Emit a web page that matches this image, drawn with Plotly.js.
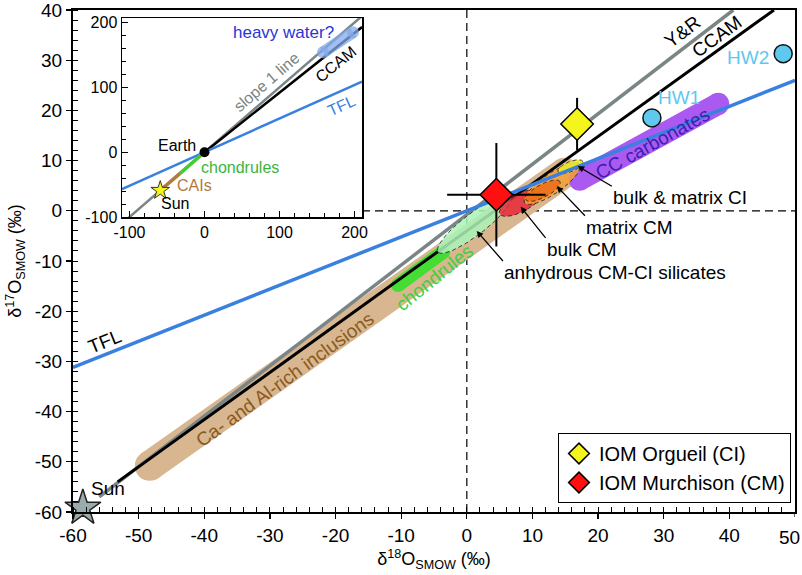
<!DOCTYPE html>
<html><head><meta charset="utf-8">
<script src="https://cdn.plot.ly/plotly-3.0.1.min.js"></script>
<style>body{margin:0;background:#fff}</style>
</head><body><div id="chart" style="width:802px;height:575px"></div>
<script>
// ---------- main panel data ----------
const tflX = [-60, 50], tflY = [-31.2, 26.0];          // terrestrial fractionation line
const ccamX = [-53.2, 46.8], ccamY = [-54.0, 40.0];    // CCAM line
const yrX = [-56.0, 40.6], yrY = [-57.0, 40.0];        // Young & Russell line
const sunX = [-58.5], sunY = [-59.2];
const hwX = [28.2, 48.2], hwY = [18.5, 31.3], hwLabels = ['HW1', 'HW2'];
const orgX = [16.8], orgY = [17.3], orgErrY = [5.2];
const murX = [4.5], murY = [3.2], murErrX = [7.5], murErrY = [10.3];
const caiX = [-48.3, 14.9], caiY = [-50.8, 7.6];        // Ca-Al-rich inclusions band
const chondX = [-10.5, -3.6], chondY = [-14.8, -8.2];   // chondrules band
const carbX = [17.2, 38.3], carbY = [6.2, 21.3];        // CC carbonates band
const regionNames = ['anhydrous CM-CI silicates', 'bulk CM', 'matrix CM', 'matrix CM core', 'bulk & matrix CI'];
const regionX1 = [-4.4, 5.0, 8.8, 9.0, 13.9];
const regionY1 = [-8.2, -0.6, 1.6, 2.2, 7.8];
const regionX2 = [6.6, 11.4, 17.2, 14.2, 17.7];
const regionY2 = [2.8, 3.8, 9.2, 5.8, 9.8];
// arrows: head points at the region, tail at the label
const ptrLabels = ['bulk &amp; matrix CI', 'matrix CM', 'bulk CM', 'anhydrous CM-CI silicates'];
const ptrHeadX = [16.9, 13.7, 8.2, 1.5], ptrHeadY = [8.9, 4.9, 0.8, -4.0];
const ptrTailX = [22.1, 18.0, 12.0, 5.5], ptrTailY = [4.9, -1.0, -5.4, -10.0];
// tick labels (the last x label, at the right edge, is drawn as a right-aligned annotation)
const mainXTicks = [-60, -50, -40, -30, -20, -10, 0, 10, 20, 30, 40];
const mainXText = ['-60', '-50', '-40', '-30', '-20', '-10', '0', '10', '20', '30', '40'];
const edgeXTick = 50, edgeXText = '50';
const mainYTicks = [-60, -50, -40, -30, -20, -10, 0, 10, 20, 30, 40];
const mainYText = ['-60', '-50', '-40', '-30', '-20', '-10', '0', '10', '20', '30', '40'];
const insTicks = [-100, 0, 100, 200];
const insText = ['-100', '0', '100', '200'];
// ---------- inset data ----------
const insSlope1X = [-110, 210], insSlope1Y = [-110, 210];
const insCcamX = [0, 210], insCcamY = [0, 193];
const insTflX = [-110, 210], insTflY = [-57, 109];
const insChondX = [-33, 0], insChondY = [-33, 0];
const insCaiX = [-58, -33], insCaiY = [-58, -33];
const insHeavyX = [158, 198], insHeavyY = [154, 185];
const earthX = [0], earthY = [0];
const insSunX = [-59], insSunY = [-59];

// ---------- geometry / style ----------
const W = 802, H = 575, M = {l: 73, r: 7, t: 10, b: 63};
const PW = W - M.l - M.r, PH = H - M.t - M.b;
const XR = [-60, 50], YR = [-60, 40];
const sx = PW / (XR[1] - XR[0]), sy = PH / (YR[1] - YR[0]);
const FONT = 'Liberation Sans, Arial, sans-serif';
const insetDom = {x: [(122 - M.l) / PW, (362 - M.l) / PW], y: [(M.t + PH - 217) / PH, (M.t + PH - 18) / PH]};

const regionWidths = [22, 18, 20, 13, 10];
const regionFill = ['rgba(170,245,185,0.85)', 'rgba(232,40,55,0.85)', 'rgba(246,160,50,0.85)', 'rgba(238,105,20,0.8)', 'rgba(232,232,40,0.9)'];

function ellipse(x1, y1, x2, y2, wpx) {
  const X1 = x1 * sx, Y1 = y1 * sy, X2 = x2 * sx, Y2 = y2 * sy;
  const cx = (X1 + X2) / 2, cy = (Y1 + Y2) / 2;
  const dx = X2 - X1, dy = Y2 - Y1, L = Math.hypot(dx, dy);
  const ux = dx / L, uy = dy / L, vx = -uy, vy = ux, a = L / 2, b = wpx / 2;
  const xs = [], ys = [];
  for (let i = 0; i <= 72; i++) {
    const t = i / 72 * 2 * Math.PI;
    xs.push((cx + a * Math.cos(t) * ux + b * Math.sin(t) * vx) / sx);
    ys.push((cy + a * Math.cos(t) * uy + b * Math.sin(t) * vy) / sy);
  }
  return {xs, ys};
}
function band(x, y, w, color, xa, ya) {
  return {x, y, xaxis: xa || 'x', yaxis: ya || 'y', mode: 'lines+markers', showlegend: false, hoverinfo: 'skip',
    line: {color, width: w}, marker: {color, size: w, line: {width: 0}}};
}
function line(x, y, color, w, xa, ya) {
  return {x, y, xaxis: xa || 'x', yaxis: ya || 'y', mode: 'lines', showlegend: false, hoverinfo: 'skip', line: {color, width: w}};
}

const traces = [];
traces.push(band(caiX, caiY, 30, '#d8b690'));
traces.push(band(carbX, carbY, 22, '#aa5af0'));
traces.push(band(chondX, chondY, 14, '#44dd33'));
traces.push(line(yrX, yrY, '#7a8585', 3.5));
traces.push(line(ccamX, ccamY, '#000000', 3));
regionNames.forEach((n, i) => {
  const e = ellipse(regionX1[i], regionY1[i], regionX2[i], regionY2[i], regionWidths[i]);
  traces.push({x: e.xs, y: e.ys, mode: 'lines', fill: 'toself', fillcolor: regionFill[i], name: n, showlegend: false,
    hoverinfo: 'skip', line: {color: 'rgba(30,30,30,0.8)', width: 1, dash: '4px,3px'}});
});
traces.push(line(tflX, tflY, '#3a80e0', 3.5));
traces.push({x: hwX, y: hwY, mode: 'markers', showlegend: false, text: hwLabels, hoverinfo: 'text',
  marker: {symbol: 'circle', size: 18, color: '#5ec8ee', line: {color: '#111', width: 1.5}}});
traces.push({x: sunX, y: sunY, mode: 'markers', showlegend: false, cliponaxis: false,
  marker: {symbol: 'star', size: 27, color: '#9aabab', line: {color: '#222', width: 1.5}}});
traces.push({x: orgX, y: orgY, mode: 'markers', name: 'IOM Orgueil (CI)',
  error_y: {type: 'data', array: orgErrY, color: '#000', thickness: 2, width: 0},
  marker: {symbol: 'diamond', size: 25, color: '#f5f51e', line: {color: '#000', width: 1.5}}});
traces.push({x: murX, y: murY, mode: 'markers', name: 'IOM Murchison (CM)',
  error_x: {type: 'data', array: murErrX, color: '#000', thickness: 2, width: 0},
  error_y: {type: 'data', array: murErrY, color: '#000', thickness: 2, width: 0},
  marker: {symbol: 'diamond', size: 25, color: '#ff1010', line: {color: '#000', width: 1.5}}});
// inset
traces.push(line(insSlope1X, insSlope1Y, '#7a8585', 2.5, 'x2', 'y2'));
traces.push(line(insCcamX, insCcamY, '#000000', 2.5, 'x2', 'y2'));
traces.push(line(insTflX, insTflY, '#3a80e0', 2.5, 'x2', 'y2'));
traces.push(band(insHeavyX, insHeavyY, 12, 'rgba(130,170,235,0.75)', 'x2', 'y2'));
traces.push(line(insChondX, insChondY, '#44cc33', 3.5, 'x2', 'y2'));
traces.push(line(insCaiX, insCaiY, '#b07a40', 3.5, 'x2', 'y2'));
traces.push({x: earthX, y: earthY, xaxis: 'x2', yaxis: 'y2', mode: 'markers', showlegend: false,
  marker: {size: 10, color: '#000'}});
traces.push({x: insSunX, y: insSunY, xaxis: 'x2', yaxis: 'y2', mode: 'markers', showlegend: false,
  marker: {symbol: 'star', size: 14, color: '#f5f51e', line: {color: '#333', width: 1}}});

function lab(text, x, y, opts) {
  return Object.assign({text, x, y, xref: 'x', yref: 'y', showarrow: false,
    font: {family: FONT, size: 19, color: '#000'}}, opts || {});
}
function ilab(text, x, y, opts) {
  return Object.assign({text, x, y, xref: 'x2', yref: 'y2', showarrow: false,
    font: {family: FONT, size: 16, color: '#000'}}, opts || {});
}
function ptr(i) {
  return {text: ptrLabels[i], x: ptrHeadX[i], y: ptrHeadY[i], ax: ptrTailX[i], ay: ptrTailY[i],
    xref: 'x', yref: 'y', axref: 'x', ayref: 'y', xanchor: 'left', yanchor: 'top', borderpad: 0,
    font: {family: FONT, size: 19, color: '#000'},
    showarrow: true, arrowhead: 2, arrowsize: 1, arrowwidth: 1.3, arrowcolor: '#000', standoff: 0, startstandoff: 0};
}
const annotations = [
  lab('Y&amp;R', 32.9, 35.7, {textangle: -37}),
  lab('CCAM', 38.1, 34.7, {textangle: -36}),
  lab(hwLabels[0], 32.4, 22.5, {font: {family: FONT, size: 19, color: '#5ec8ee'}}),
  lab(hwLabels[1], 42.8, 30.5, {font: {family: FONT, size: 19, color: '#5ec8ee'}}),
  lab('TFL', -55.2, -26.1, {textangle: -22}),
  lab('Sun', -54.7, -55.4),
  lab('Ca- and Al-rich inclusions', -27.7, -33.7, {textangle: -36, font: {family: FONT, size: 19, color: '#8a5a1e'}}),
  lab('chondrules', -4.9, -13.3, {textangle: -39, font: {family: FONT, size: 19, color: '#3fcf3f'}}),
  lab('CC carbonates', 28.3, 13.5, {textangle: -29, font: {family: FONT, size: 19, color: '#3a1fb0'}}),
  ptr(0), ptr(1), ptr(2), ptr(3),
  {text: edgeXText, x: edgeXTick, y: 0, xref: 'x', yref: 'paper', xanchor: 'right', yanchor: 'top',
    xshift: 6, yshift: -14, showarrow: false, borderpad: 0, font: {family: FONT, size: 19, color: '#000'}},
  ilab('heavy water?', 104.7, 185, {font: {family: FONT, size: 17, color: '#2b35d6'}}),
  ilab('slope 1 line', 82, 108, {textangle: -41, font: {family: FONT, size: 16, color: '#7a8585'}}),
  ilab('CCAM', 174, 136, {textangle: -39}),
  ilab('TFL', 183, 72.5, {textangle: -24, font: {family: FONT, size: 16, color: '#3a80e0'}}),
  ilab('Earth', -36.7, 10.8),
  ilab('chondrules', 47, -23, {font: {family: FONT, size: 16, color: '#3cb43c'}}),
  ilab('CAIs', -12.7, -51, {font: {family: FONT, size: 16, color: '#b07a40'}}),
  ilab('Sun', -39, -79)
];

const axisCommon = {showgrid: false, zeroline: false, showline: true, linecolor: '#000', mirror: true,
  ticklabeloverflow: 'allow', tickcolor: '#000', tickfont: {family: FONT, size: 19, color: '#000'}};
const layout = {
  width: W, height: H, margin: M, paper_bgcolor: '#fff', plot_bgcolor: '#fff',
  font: {family: FONT, color: '#000'},
  showlegend: true,
  legend: {x: (558 - M.l) / PW, y: (M.t + PH - 503) / PH, xanchor: 'left', yanchor: 'bottom',
    bordercolor: '#000', borderwidth: 1, bgcolor: '#fff', font: {family: FONT, size: 20, color: '#000'},
    tracegroupgap: 0, itemwidth: 30, itemsizing: 'trace'},
  xaxis: Object.assign({}, axisCommon, {range: XR, tickmode: 'array', tickvals: mainXTicks, ticktext: mainXText,
    ticks: 'outside', ticklen: 5, tickwidth: 1.2,
    linewidth: 2, minor: {dtick: 2, tick0: 0, ticks: 'inside', ticklen: 5, tickcolor: '#000', tickwidth: 1, showgrid: false},
    title: {text: 'δ<sup>18</sup>O<sub>SMOW</sub> (‰)', font: {family: FONT, size: 18, color: '#000'}, standoff: 8}}),
  yaxis: Object.assign({}, axisCommon, {range: YR, tickmode: 'array', tickvals: mainYTicks, ticktext: mainYText,
    ticks: 'outside', ticklen: 5, tickwidth: 1.2,
    linewidth: 2, minor: {dtick: 2, tick0: 0, ticks: 'inside', ticklen: 5, tickcolor: '#000', tickwidth: 1, showgrid: false},
    title: {text: 'δ<sup>17</sup>O<sub>SMOW</sub> (‰)', font: {family: FONT, size: 18, color: '#000'}, standoff: 8}}),
  xaxis2: Object.assign({}, axisCommon, {domain: insetDom.x, anchor: 'y2', range: [-110, 210],
    tickmode: 'array', tickvals: insTicks, ticktext: insText,
    ticks: 'inside', ticklen: 6, linewidth: 1.5, tickfont: {family: FONT, size: 16, color: '#000'},
    minor: {dtick: 20, tick0: 0, ticks: 'inside', ticklen: 4, tickcolor: '#000', showgrid: false}}),
  yaxis2: Object.assign({}, axisCommon, {domain: insetDom.y, anchor: 'x2', range: [-100, 207],
    tickmode: 'array', tickvals: insTicks, ticktext: insText,
    ticks: 'inside', ticklen: 6, linewidth: 1.5, tickfont: {family: FONT, size: 16, color: '#000'},
    minor: {dtick: 20, tick0: 0, ticks: 'inside', ticklen: 4, tickcolor: '#000', showgrid: false}}),
  shapes: [
    {type: 'line', xref: 'x', yref: 'paper', x0: 0, x1: 0, y0: 0, y1: 1, layer: 'below',
      line: {color: '#000', width: 1.2, dash: '8px,5px'}},
    {type: 'line', xref: 'paper', yref: 'y', x0: insetDom.x[1], x1: 1, y0: 0, y1: 0, layer: 'below',
      line: {color: '#000', width: 1.2, dash: '8px,5px'}},
    {type: 'line', xref: 'x', yref: 'paper', x0: edgeXTick, x1: edgeXTick, y0: -5, y1: 0, ysizemode: 'pixel',
      yanchor: 0, layer: 'above', line: {color: '#000', width: 1.2}}
  ],
  annotations
};
Plotly.newPlot('chart', traces, layout, {displayModeBar: false, staticPlot: true});
</script></body></html>
